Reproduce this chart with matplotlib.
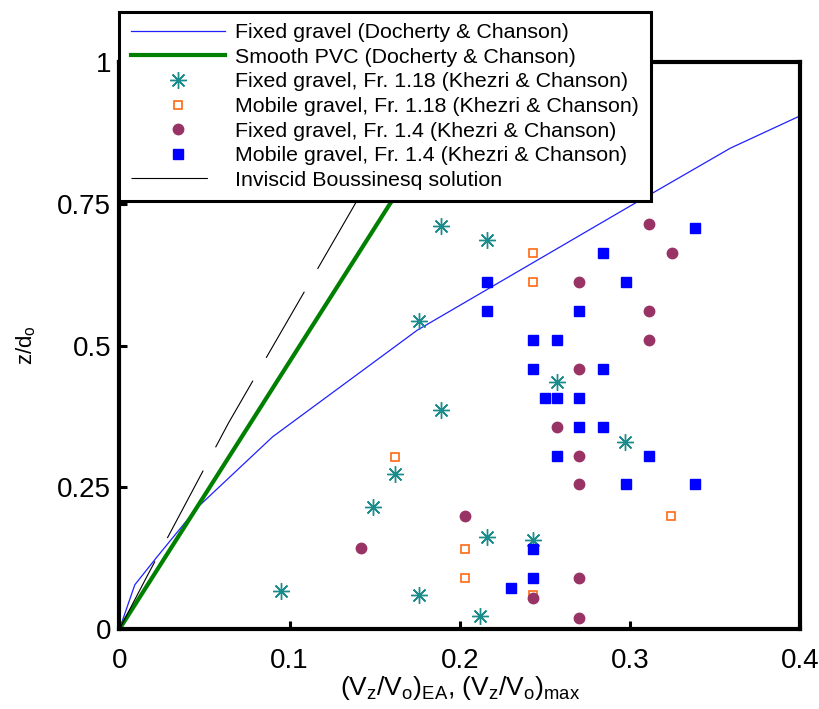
import matplotlib
matplotlib.use("Agg")
import matplotlib.pyplot as plt

plt.rcParams['font.family'] = ['Liberation Sans', 'DejaVu Sans']
plt.rcParams['mathtext.default'] = 'regular'
plt.rcParams['lines.scale_dashes'] = False

# Docherty & Chanson profiles
fixed_dc_x = [0, 0.009, 0.022, 0.046, 0.090, 0.175, 0.299, 0.359, 0.40]
fixed_dc_y = [0, 0.078, 0.127, 0.215, 0.339, 0.527, 0.744, 0.848, 0.905]
pvc_dc_x = [0, 0.212]
pvc_dc_y = [0, 1.0]

# Inviscid Boussinesq solution
bous_x = [0, 0.016, 0.064, 0.137, 0.19]
bous_y = [0, 0.092, 0.363, 0.742, 1.02]

# Khezri & Chanson
fg118_x = [0.095, 0.176, 0.212, 0.243, 0.216, 0.149, 0.162, 0.297, 0.257, 0.189, 0.176, 0.189, 0.216]
fg118_y = [0.067, 0.060, 0.023, 0.157, 0.162, 0.215, 0.273, 0.330, 0.436, 0.386, 0.543, 0.711, 0.686]

mg118_x = [0.243, 0.243, 0.162, 0.203, 0.203, 0.243, 0.324]
mg118_y = [0.663, 0.612, 0.303, 0.141, 0.090, 0.060, 0.199]

fg14_x = [0.311, 0.325, 0.270, 0.311, 0.311, 0.270, 0.257, 0.270, 0.270, 0.203, 0.142, 0.243, 0.270, 0.270]
fg14_y = [0.714, 0.663, 0.612, 0.561, 0.510, 0.459, 0.357, 0.306, 0.255, 0.199, 0.143, 0.055, 0.090, 0.019]

mg14_x = [0.338, 0.284, 0.216, 0.298, 0.216, 0.270, 0.243, 0.257, 0.243, 0.284, 0.250, 0.257,
          0.270, 0.270, 0.284, 0.257, 0.311, 0.298, 0.338, 0.243, 0.243, 0.230]
mg14_y = [0.708, 0.663, 0.612, 0.612, 0.561, 0.561, 0.510, 0.510, 0.459, 0.459, 0.408, 0.408,
          0.408, 0.357, 0.357, 0.306, 0.306, 0.255, 0.255, 0.141, 0.090, 0.072]

fig = plt.figure(figsize=(8.19, 7.09), dpi=100)
ax = fig.add_axes([0.1459, 0.1128, 0.8309, 0.7997])

ax.plot(fixed_dc_x, fixed_dc_y, color='#2020ff', lw=0.9, label='Fixed gravel (Docherty & Chanson)')
ax.plot(pvc_dc_x, pvc_dc_y, color='#008000', lw=3, label='Smooth PVC (Docherty & Chanson)')
ax.plot(fg118_x, fg118_y, ls='none', marker=(8, 2, 0), ms=12, mew=1.0, color='#1a8c8c',
        label='Fixed gravel, Fr. 1.18 (Khezri & Chanson)')
ax.plot(mg118_x, mg118_y, ls='none', marker='s', ms=5.5, mew=1.2, mfc='white', mec='#ff6a13',
        label='Mobile gravel, Fr. 1.18 (Khezri & Chanson)')
ax.plot(fg14_x, fg14_y, ls='none', marker='o', ms=7.5, color='#993366',
        label='Fixed gravel, Fr. 1.4 (Khezri & Chanson)')
ax.plot(mg14_x, mg14_y, ls='none', marker='s', ms=7, color='#0000ff',
        label='Mobile gravel, Fr. 1.4 (Khezri & Chanson)')
ax.plot(bous_x, bous_y, color='black', lw=0.8, dashes=(55, 19),
        label='Inviscid Boussinesq solution')

ax.set_xlim(0, 0.4)
ax.set_ylim(0, 1)
ax.set_xticks([0, 0.1, 0.2, 0.3, 0.4])
ax.set_xticklabels(['0', '0.1', '0.2', '0.3', '0.4'])
ax.set_yticks([0, 0.25, 0.5, 0.75, 1])
ax.set_yticklabels(['0', '0.25', '0.5', '0.75', '1'])
ax.tick_params(direction='in', length=6, width=2.2, labelsize=20)
ax.tick_params(axis='x', pad=14)
ax.tick_params(axis='y', pad=6)
for s in ax.spines.values():
    s.set_linewidth(3)

ax.set_xlabel('(V$_{z}$/V$_{o}$)$_{EA}$, (V$_{z}$/V$_{o}$)$_{max}$', fontsize=19, labelpad=0)
ax.set_ylabel('z/d$_{o}$', fontsize=16, labelpad=14)

leg = ax.legend(loc='upper left', bbox_to_anchor=(0, 1.089), borderaxespad=0,
                fontsize=15.4, numpoints=1, handlelength=4.4, handletextpad=0.45,
                labelspacing=0.26, fancybox=False, framealpha=1, borderpad=0.55)
leg.get_frame().set_edgecolor('black')
leg.get_frame().set_linewidth(2.2)

fig.savefig('out.png', dpi=100)
